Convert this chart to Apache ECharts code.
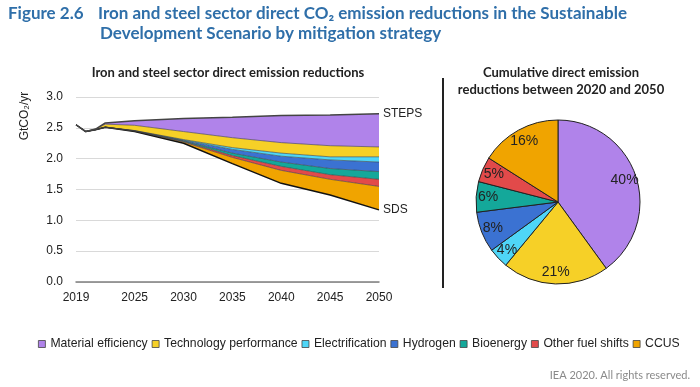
<!DOCTYPE html>
<html><head><meta charset="utf-8">
<script src="https://cdn.jsdelivr.net/npm/echarts@6/dist/echarts.min.js"></script>
<style>html,body{margin:0;padding:0;background:#fff}#c{width:700px;height:387px}</style>
</head><body><div id="c"></div>
<script>
// ---- data ----
const years = [2019, 2020, 2021, 2022, 2025, 2030, 2035, 2040, 2045, 2050];
const sds = [2.55, 2.44, 2.47, 2.51, 2.44, 2.25, 1.92, 1.60, 1.41, 1.17];
const ccus = [0, 0, 0, 0, 0.005, 0.02, 0.10, 0.21, 0.255, 0.38];
const otherFuel = [0, 0, 0, 0, 0.003, 0.01, 0.03, 0.065, 0.075, 0.115];
const bioenergy = [0, 0, 0, 0, 0.003, 0.01, 0.04, 0.07, 0.10, 0.125];
const hydrogen = [0, 0, 0, 0, 0.003, 0.01, 0.06, 0.095, 0.14, 0.155];
const electrification = [0, 0, 0, 0, 0.002, 0.01, 0.03, 0.05, 0.05, 0.085];
const techPerf = [0, 0, 0.01, 0.05, 0.085, 0.13, 0.16, 0.17, 0.18, 0.16];
const materialEff = [0, 0, 0, 0.02, 0.075, 0.21, 0.33, 0.44, 0.50, 0.54];
const strategyNames = ['Material efficiency', 'Technology performance', 'Electrification', 'Hydrogen', 'Bioenergy', 'Other fuel shifts', 'CCUS'];
const pieShares = [40, 21, 4, 8, 6, 5, 16];
const xTickLabels = [2019, 2025, 2030, 2035, 2040, 2045, 2050];

const colors = {
  'Material efficiency': '#b083ea',
  'Technology performance': '#f6d027',
  'Electrification': '#4fd6f7',
  'Hydrogen': '#3b72d2',
  'Bioenergy': '#14a89a',
  'Other fuel shifts': '#e24a4a',
  'CCUS': '#f0a400'
};

// time-typed x so that the stack is applied to the y values
const pair = arr => years.map((y, i) => [y + '-01-01', arr[i]]);
const band = (name, arr, extra) => Object.assign({
  name: name, type: 'line', stack: 'total', data: pair(arr),
  symbol: 'none', showSymbol: false, silent: true,
  color: colors[name],
  itemStyle: { color: colors[name] },
  lineStyle: { color: '#3a3a3a', width: 0.6 },
  areaStyle: { color: colors[name], opacity: 1 }
}, extra || {});

const chart = echarts.init(document.getElementById('c'), null, { renderer: 'canvas' });
const option = {
  animation: false,
  backgroundColor: '#fff',
  grid: { left: 76, right: 321, top: 97, bottom: 105, containLabel: false },
  xAxis: [
    { type: 'time', min: '2019-01-01', max: '2050-01-01', show: false },
    {
      type: 'value', min: 2019, max: 2050, interval: 1, position: 'bottom',
      axisLine: { lineStyle: { color: '#7f7f7f', width: 1.5 } },
      axisTick: { show: false },
      splitLine: { show: false },
      axisLabel: {
        margin: 10, fontFamily: 'Liberation Sans', fontSize: 12, color: '#222',
        formatter: v => xTickLabels.includes(v) ? String(v) : ''
      }
    }
  ],
  yAxis: {
    type: 'value', min: 0, max: 3, interval: 0.5,
    axisLine: { show: false }, axisTick: { show: false },
    splitLine: { lineStyle: { color: '#d9d9d9', width: 1 } },
    axisLabel: { margin: 13, fontFamily: 'Liberation Sans', fontSize: 12, color: '#222', formatter: v => v.toFixed(1) }
  },
  legend: {
    data: strategyNames, icon: 'rect', left: 33, top: 333,
    itemWidth: 7, itemHeight: 7, itemGap: 4,
    itemStyle: { borderColor: '#444', borderWidth: 0.8 },
    textStyle: { fontFamily: 'Liberation Sans', fontSize: 12.2, color: '#222' },
    selectedMode: false
  },
  series: [
    {
      name: 'SDS', type: 'line', stack: 'total', data: pair(sds), symbol: 'none', silent: true,
      lineStyle: { color: '#111', width: 1.5 }, color: '#111', z: 3,
      endLabel: { show: true, formatter: 'SDS', distance: 4, fontFamily: 'Liberation Sans', fontSize: 12, color: '#222' }
    },
    band('CCUS', ccus),
    band('Other fuel shifts', otherFuel),
    band('Bioenergy', bioenergy),
    band('Hydrogen', hydrogen),
    band('Electrification', electrification),
    band('Technology performance', techPerf),
    band('Material efficiency', materialEff, {
      lineStyle: { color: '#444', width: 1.5 },
      endLabel: { show: true, formatter: 'STEPS', distance: 4, fontFamily: 'Liberation Sans', fontSize: 12, color: '#222' }
    }),
    {
      type: 'pie', center: [558, 202], radius: 82, startAngle: 90, clockwise: true,
      silent: true, label: { show: false }, labelLine: { show: false },
      itemStyle: { borderColor: '#222', borderWidth: 1 },
      data: strategyNames.map((n, i) => ({ name: n, value: pieShares[i], itemStyle: { color: colors[n] } }))
    },
    {
      type: 'pie', center: [558, 202], radius: [52, 82], startAngle: 90, clockwise: true,
      silent: true, labelLine: { show: false },
      itemStyle: { color: 'rgba(0,0,0,0)', borderWidth: 0 },
      label: { show: true, position: 'inside', formatter: '{c}%', fontFamily: 'Liberation Sans', fontSize: 14, color: '#222' },
      data: strategyNames.map((n, i) => ({ name: n + ' ', value: pieShares[i] }))
    }
  ],
  graphic: [
    { type: 'text', left: 8, top: 5, style: { text: 'Figure 2.6', font: 'bold 17px Lato', fill: '#2f6fa9' } },
    { type: 'text', left: 98, top: 5, style: { text: 'Iron and steel sector direct CO₂ emission reductions in the Sustainable', font: 'bold 17px Lato', fill: '#2f6fa9' } },
    { type: 'text', left: 100, top: 25, style: { text: 'Development Scenario by mitigation strategy', font: 'bold 17px Lato', fill: '#2f6fa9' } },
    { type: 'text', x: 228, y: 73, style: { text: 'Iron and steel sector direct emission reductions', font: 'bold 13px Lato', fill: '#222', align: 'center', verticalAlign: 'middle' } },
    { type: 'text', x: 561, y: 73, style: { text: 'Cumulative direct emission', font: 'bold 13px Lato', fill: '#222', align: 'center', verticalAlign: 'middle' } },
    { type: 'text', x: 561, y: 90, style: { text: 'reductions between 2020 and 2050', font: 'bold 13px Lato', fill: '#222', align: 'center', verticalAlign: 'middle' } },
    { type: 'text', x: 25, y: 116, rotation: Math.PI / 2, style: { text: 'GtCO₂/yr', font: '12px "Liberation Sans"', fill: '#222', align: 'center', verticalAlign: 'middle' } },
    { type: 'line', shape: { x1: 443, y1: 78, x2: 443, y2: 288 }, style: { stroke: '#222', lineWidth: 2 } },
    { type: 'text', x: 690, y: 375, style: { text: 'IEA 2020. All rights reserved.', font: '11px Lato', fill: '#8a8a8a', align: 'right', verticalAlign: 'middle' } }
  ]
};
chart.setOption(option);
</script></body></html>
